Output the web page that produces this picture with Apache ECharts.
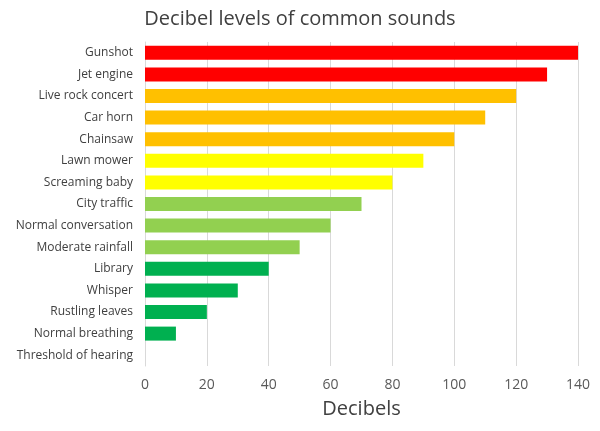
<!DOCTYPE html>
<html><head><meta charset="utf-8">
<script src="https://cdn.jsdelivr.net/npm/echarts@6/dist/echarts.min.js"></script>
<style>html,body{margin:0;padding:0;background:#fff}#c{width:600px;height:431px}</style>
</head><body><div id="c"></div>
<script>
const categories = ["Gunshot","Jet engine","Live rock concert","Car horn","Chainsaw","Lawn mower","Screaming baby","City traffic","Normal conversation","Moderate rainfall","Library","Whisper","Rustling leaves","Normal breathing","Threshold of hearing"];
const decibels = [140,130,120,110,100,90,80,70,60,50,40,30,20,10,0];
const barColors = ["#FF0000","#FF0000","#FFC000","#FFC000","#FFC000","#FFFF00","#FFFF00","#92D050","#92D050","#92D050","#00B050","#00B050","#00B050","#00B050","#00B050"];
const chart = echarts.init(document.getElementById('c'));
chart.setOption({
  animation:false,
  title:{text:'Decibel levels of common sounds',left:'center',top:4,textStyle:{fontFamily:'Open Sans',fontWeight:'normal',fontSize:20,color:'#404040'}},
  grid:{left:145,right:22,top:42,bottom:65},
  xAxis:{type:'value',min:0,max:140,interval:20,name:'Decibels',nameLocation:'middle',nameGap:33,
    nameTextStyle:{fontFamily:'Open Sans',fontSize:20,color:'#404040'},
    axisLabel:{fontFamily:'Open Sans',fontSize:14,color:'#595959',margin:12},
    axisLine:{show:false},axisTick:{show:false},splitLine:{lineStyle:{color:'#D9D9D9'}}},
  yAxis:{type:'category',data:categories,inverse:true,
    axisLabel:{fontFamily:'Open Sans',fontSize:12,color:'#404040',margin:12},
    axisLine:{lineStyle:{color:'#D9D9D9'}},axisTick:{show:false}},
  series:[{type:'bar',data:decibels.map((v,i)=>({value:v,itemStyle:{color:barColors[i]}})),barWidth:14}]
});
</script></body></html>
